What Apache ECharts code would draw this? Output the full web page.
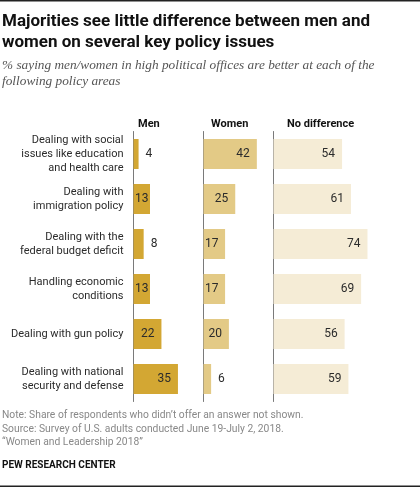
<!DOCTYPE html>
<html><head><meta charset="utf-8">
<script src="https://cdn.jsdelivr.net/npm/echarts@6/dist/echarts.min.js"></script>
<style>html,body{margin:0;padding:0;background:#fff}#c{width:420px;height:488px}</style>
</head><body><div id="c"></div>
<script>
const categories = [
  "Dealing with social\nissues like education\nand health care",
  "Dealing with\nimmigration policy",
  "Dealing with the\nfederal budget deficit",
  "Handling economic\nconditions",
  "Dealing with gun policy",
  "Dealing with national\nsecurity and defense"
];
const men = [4, 13, 8, 13, 22, 35];
const women = [42, 25, 17, 17, 20, 6];
const noDifference = [54, 61, 74, 69, 56, 59];
const columnHeaders = ["Men", "Women", "No difference"];

const PX = 1.27;          // pixels per percentage point
const TOP = 131.5, H = 270;
const cols = [
  {left: 133.5, max: 50, data: men, color: '#d3a733'},
  {left: 203.5, max: 50, data: women, color: '#e3ca86'},
  {left: 273.5, max: 100, data: noDifference, color: '#f5ecd6'}
];
const FONT = 'Roboto, "Liberation Sans", Arial, sans-serif';

function items(arr) {
  return arr.map(v => {
    const w = v * PX;
    if (v < 10) {
      return {value: v, label: {position: 'right', distance: 7}};
    }
    return {value: v, label: {position: 'insideRight', distance: Math.max(1.5, Math.min(7, w - 15))}};
  });
}

const grid = [], xAxis = [], yAxis = [], series = [];
cols.forEach((c, i) => {
  grid.push({left: c.left, top: TOP, width: c.max * PX, height: H, containLabel: false});
  xAxis.push({type: 'value', gridIndex: i, min: 0, max: c.max, show: false});
  yAxis.push({
    type: 'category', gridIndex: i, data: categories, inverse: true,
    axisLine: {show: true, lineStyle: {color: '#7a7a7a', width: 1}},
    axisTick: {show: false},
    axisLabel: i === 0 ? {
      show: true, align: 'right', margin: 10, fontSize: 11, lineHeight: 14,
      color: '#2b2b2b', fontFamily: FONT
    } : {show: false},
    splitLine: {show: false}
  });
  series.push({
    type: 'bar', xAxisIndex: i, yAxisIndex: i, data: items(c.data),
    barWidth: 30, itemStyle: {color: c.color}, silent: true,
    label: {show: true, fontSize: 12, color: '#2b2b2b', fontFamily: FONT}
  });
});

const noteLines = [
  "Note: Share of respondents who didn\u2019t offer an answer not shown.",
  "Source: Survey of U.S. adults conducted June 19-July 2, 2018.",
  "\u201cWomen and Leadership 2018\u201d"
];

const chart = echarts.init(document.getElementById('c'), null, {renderer: 'canvas'});
chart.setOption({
  animation: false,
  grid, xAxis, yAxis, series,
  graphic: [
    {type: 'rect', shape: {x: 0, y: 0, width: 420, height: 1.5}, style: {fill: '#222'}},
    {type: 'rect', shape: {x: 0, y: 485.5, width: 420, height: 1.5}, style: {fill: '#222'}},
    {type: 'text', left: 2, top: 11, style: {
      text: "Majorities see little difference between men and\nwomen on several key policy issues",
      font: 'bold 17px ' + FONT, fill: '#111', lineHeight: 21}},
    {type: 'text', left: 2, top: 58, style: {
      text: "% saying men/women in high political offices are better at each of the\nfollowing policy areas",
      font: 'italic 13.3px "Liberation Serif", "DejaVu Serif", serif', fill: '#555', lineHeight: 16}},
    {type: 'text', left: 138, top: 119, style: {text: columnHeaders[0], font: 'bold 11px ' + FONT, fill: '#111'}},
    {type: 'text', left: 211, top: 119, style: {text: columnHeaders[1], font: 'bold 11px ' + FONT, fill: '#111'}},
    {type: 'text', left: 287, top: 119, style: {text: columnHeaders[2], font: 'bold 11px ' + FONT, fill: '#111'}},
    {type: 'text', left: 2, top: 409, style: {
      text: noteLines.join("\n"), font: '10.3px ' + FONT, fill: '#888', lineHeight: 13.5}},
    {type: 'text', left: 2, top: 460, style: {
      text: "PEW RESEARCH CENTER", font: 'bold 10px ' + FONT, fill: '#111'}}
  ]
});
</script></body></html>
